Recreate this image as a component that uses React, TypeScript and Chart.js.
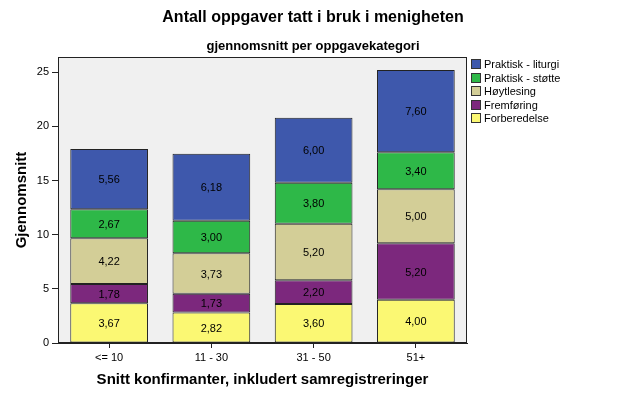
import React, { useEffect, useRef } from "react";
import { Chart, registerables } from "chart.js";

Chart.register(...registerables);

const categories = ["<= 10", "11 - 30", "31 - 50", "51+"];
const forberedelse = [3.67, 2.82, 3.6, 4.0];
const fremforing = [1.78, 1.73, 2.2, 5.2];
const hoytlesing = [4.22, 3.73, 5.2, 5.0];
const praktiskStotte = [2.67, 3.0, 3.8, 3.4];
const praktiskLiturgi = [5.56, 6.18, 6.0, 7.6];
const seriesNames = ["Forberedelse", "Fremføring", "Høytlesing", "Praktisk - støtte", "Praktisk - liturgi"];
const seriesColors = ["#fbf873", "#7c287d", "#d3ce97", "#2eb848", "#3e58ac"];
const yTickValues = [0, 5, 10, 15, 20, 25];
const titleText = "Antall oppgaver tatt i bruk i menigheten";
const subtitleText = "gjennomsnitt per oppgavekategori";
const xTitle = "Snitt konfirmanter, inkludert samregistreringer";
const yTitle = "Gjennomsnitt";

const FONT = "Arial, 'Liberation Sans', sans-serif";

const framePlugin = {
  id: "frame",
  beforeDraw(chart: any) {
    const { ctx, chartArea } = chart;
    ctx.save();
    ctx.fillStyle = "#f0f0f0";
    ctx.fillRect(chartArea.left, chartArea.top, chartArea.right - chartArea.left, chartArea.bottom - chartArea.top);
    ctx.restore();
  },
  afterDraw(chart: any) {
    const { ctx, chartArea } = chart;
    ctx.save();
    ctx.strokeStyle = "#222";
    ctx.lineWidth = 1;
    ctx.strokeRect(
      Math.round(chartArea.left) + 0.5,
      Math.round(chartArea.top) + 0.5,
      Math.round(chartArea.right - chartArea.left) - 1,
      Math.round(chartArea.bottom - chartArea.top) - 1
    );
    ctx.restore();
  },
};

const labelPlugin = {
  id: "barLabels",
  afterDatasetsDraw(chart: any) {
    const { ctx } = chart;
    ctx.save();
    ctx.font = `11px ${FONT}`;
    ctx.fillStyle = "#000";
    ctx.textAlign = "center";
    ctx.textBaseline = "middle";
    chart.data.datasets.forEach((ds: any, di: number) => {
      const meta = chart.getDatasetMeta(di);
      meta.data.forEach((el: any, i: number) => {
        const v = ds.data[i];
        const txt = v.toFixed(2).replace(".", ",");
        ctx.fillText(txt, el.x, (el.y + el.base) / 2 + 1);
      });
    });
    ctx.restore();
  },
};

const legendPlugin = {
  id: "customLegend",
  afterDraw(chart: any) {
    const { ctx, chartArea } = chart;
    ctx.save();
    ctx.font = `11px ${FONT}`;
    ctx.textAlign = "left";
    ctx.textBaseline = "middle";
    const x0 = chartArea.right + 4;
    const y0 = 64;
    const step = 13.5;
    const n = chart.data.datasets.length;
    for (let k = 0; k < n; k++) {
      const di = n - 1 - k;
      const ds = chart.data.datasets[di];
      const yc = y0 + k * step;
      ctx.fillStyle = ds.backgroundColor;
      ctx.fillRect(x0, Math.round(yc - 5), 10, 10);
      ctx.strokeStyle = "#333";
      ctx.lineWidth = 1;
      ctx.strokeRect(x0 + 0.5, Math.round(yc - 5) + 0.5, 9, 9);
      ctx.fillStyle = "#000";
      ctx.fillText(ds.label, x0 + 13, yc + 1);
    }
    ctx.restore();
  },
};

export default function App() {
  const ref = useRef<HTMLCanvasElement | null>(null);
  useEffect(() => {
    document.body.style.margin = "0";
    const canvas = ref.current;
    if (!canvas) return;
    const seriesData = [forberedelse, fremforing, hoytlesing, praktiskStotte, praktiskLiturgi];
    const chart = new Chart(canvas, {
      type: "bar",
      data: {
        labels: categories,
        datasets: seriesData.map((d, i) => ({
          label: seriesNames[i],
          data: d,
          backgroundColor: seriesColors[i],
          borderColor: "#222",
          borderWidth: 1,
          borderSkipped: false,
          categoryPercentage: 1,
          barPercentage: 0.76,
          yAxisID: "y",
        })),
      },
      options: {
        responsive: false,
        animation: false,
        devicePixelRatio: 1,
        layout: { padding: 0 },
        plugins: {
          legend: { display: false },
          tooltip: { enabled: false },
          title: {
            display: true,
            text: titleText,
            color: "#000",
            font: { family: FONT, size: 16, weight: "bold" },
            padding: { top: 8, bottom: 11 },
          },
          subtitle: {
            display: true,
            text: subtitleText,
            color: "#000",
            font: { family: FONT, size: 13, weight: "bold" },
            padding: { top: 0, bottom: 3.2 },
          },
        },
        scales: {
          x: {
            stacked: true,
            afterFit(scale: any) {
              scale.height = 58;
            },
            grid: { offset: false, drawOnChartArea: false, drawTicks: true, tickLength: 5, color: "#222" },
            border: { display: true, color: "#222" },
            ticks: { color: "#000", font: { family: FONT, size: 11 }, padding: 3 },
            title: {
              display: true,
              text: xTitle,
              color: "#000",
              font: { family: FONT, size: 15, weight: "bold" },
              padding: { top: 0, bottom: 12 },
            },
          },
          y: {
            stacked: true,
            min: 0,
            max: 26.4,
            afterFit(scale: any) {
              scale.width = 58;
            },
            afterBuildTicks(scale: any) {
              scale.ticks = yTickValues.map((v) => ({ value: v }));
            },
            grid: { drawOnChartArea: false, drawTicks: true, tickLength: 6, color: "#222" },
            border: { display: true, color: "#222" },
            ticks: { color: "#000", font: { family: FONT, size: 11 }, padding: 3 },
            title: {
              display: true,
              text: yTitle,
              color: "#000",
              font: { family: FONT, size: 15, weight: "bold" },
              padding: { top: 13, bottom: 0 },
            },
          },
          legendSpace: {
            type: "linear",
            position: "right",
            display: true,
            min: 0,
            max: 1,
            afterFit(scale: any) {
              scale.width = 159;
            },
            grid: { display: false, drawTicks: false },
            border: { display: false },
            ticks: { display: false },
          },
        },
      },
      plugins: [framePlugin, labelPlugin, legendPlugin],
    } as any);
    return () => chart.destroy();
  }, []);
  return (
    <div style={{ width: 626, height: 401 }}>
      <canvas ref={ref} width={626} height={401} style={{ display: "block" }} />
    </div>
  );
}
